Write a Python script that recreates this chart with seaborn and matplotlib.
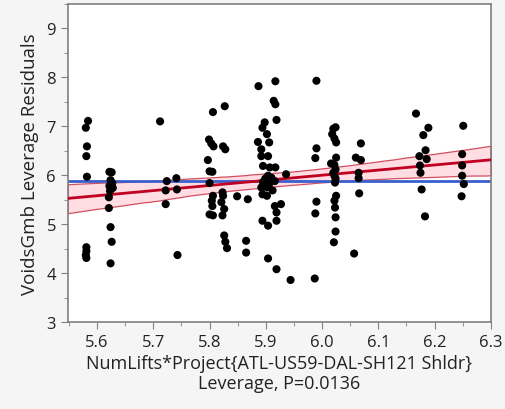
import numpy as np
import pandas as pd
import seaborn as sns
import matplotlib.pyplot as plt
from matplotlib.ticker import MultipleLocator

# leverage x values (grouped by column of points)
lev_x = [
    5.584, 5.580, 5.582, 5.581, 5.582, 5.581, 5.581, 5.580, 5.581,
    5.622, 5.626, 5.624, 5.627, 5.622, 5.628, 5.623, 5.621, 5.621, 5.624, 5.626, 5.624,
    5.712,
    5.724, 5.722, 5.722, 5.741, 5.742, 5.743,
    5.806, 5.799, 5.803, 5.807, 5.797, 5.800, 5.805, 5.800, 5.806, 5.804, 5.805, 5.800, 5.806,
    5.827, 5.824, 5.828, 5.823, 5.824, 5.821, 5.826, 5.823, 5.826, 5.828, 5.831,
    5.849, 5.868, 5.865, 5.865,
    5.887, 5.917, 5.914, 5.917, 5.898, 5.919, 5.894, 5.902, 5.886, 5.906, 5.892, 5.892,
    5.904, 5.895, 5.907, 5.917, 5.904, 5.895, 5.907, 5.916, 5.892, 5.902, 5.912, 5.894,
    5.902, 5.916, 5.927, 5.919, 5.894, 5.904, 5.919, 5.904, 5.919, 5.944, 5.936,
    5.899, 5.905, 5.910,
    5.990, 5.990, 5.988, 5.990, 5.988, 5.987,
    6.020, 6.024, 6.018, 6.022, 6.025, 6.025, 6.016, 6.022, 6.024, 6.022, 6.023, 6.025,
    6.022, 6.023, 6.024, 6.024, 6.021, 6.057, 6.020, 6.024,
    6.069, 6.060, 6.069, 6.065, 6.065, 6.066,
    6.167, 6.189, 6.180, 6.184, 6.173, 6.186, 6.174, 6.175, 6.177, 6.183,
    6.251, 6.249, 6.249, 6.249, 6.252, 6.248,
]

# leverage residuals
lev_y = [
    7.11, 6.97, 6.59, 6.39, 5.97, 4.53, 4.45, 4.37, 4.31,
    6.07, 6.06, 5.90, 5.84, 5.78, 5.74, 5.68, 5.55, 5.33, 4.94, 4.64, 4.20,
    7.10,
    5.88, 5.69, 5.41, 5.94, 5.71, 4.37,
    7.29, 6.73, 6.65, 6.59, 6.31, 6.08, 6.07, 5.84, 5.58, 5.48, 5.37, 5.20, 5.18,
    7.41, 6.59, 6.53, 5.65, 5.58, 5.45, 5.31, 5.18, 4.77, 4.64, 4.51,
    5.57, 5.51, 4.66, 4.42,
    7.82, 7.92, 7.52, 7.45, 7.08, 7.13, 6.97, 6.84, 6.68, 6.67, 6.53, 6.39,
    6.39, 6.19, 6.16, 6.16, 5.99, 5.86, 5.85, 5.88, 5.75, 5.75, 5.69, 5.61,
    5.58, 5.37, 5.41, 5.24, 5.07, 4.97, 5.07, 4.30, 4.08, 3.86, 6.02,
    5.93, 5.80, 5.95,
    7.93, 6.55, 6.35, 5.46, 5.22, 3.89,
    6.95, 6.98, 6.84, 6.75, 6.67, 6.36, 6.24, 6.21, 6.12, 5.99, 5.85, 5.58,
    5.48, 5.34, 5.14, 4.85, 4.63, 4.40, 6.05, 5.93,
    6.65, 6.36, 6.31, 6.05, 5.94, 5.63,
    7.26, 6.97, 6.82, 6.51, 6.39, 6.33, 6.20, 6.05, 5.71, 5.16,
    7.01, 6.43, 6.20, 5.99, 5.82, 5.57,
]

df = pd.DataFrame({"x": lev_x, "y": lev_y})

sns.set_style("white")
plt.rcParams['font.family'] = ['Open Sans', 'DejaVu Sans']

fig = plt.figure(figsize=(5.06, 4.10), dpi=100, facecolor="#f5f5f5")
ax = fig.add_axes([0.134, 0.212, 0.836, 0.776])
ax.set_facecolor("white")
ax.set_xlim(5.548, 6.3)
ax.set_ylim(3, 9.5)

# mean line
ax.axhline(np.mean(lev_y), color="#3a5fcd", lw=2, zorder=2)

# fit line + confidence band
sns.regplot(x="x", y="y", data=df, ax=ax, scatter=False, truncate=False,
            ci=95, seed=1, color="#c00020", line_kws={"lw": 2, "zorder": 3})
band = ax.collections[-1]
band.set_facecolor("#ffdde3")
band.set_alpha(1)
band.set_edgecolor("#d05060")
band.set_linewidth(0.9)
band.set_zorder(1)

sns.scatterplot(x="x", y="y", data=df, ax=ax, color="black", s=34,
                edgecolor="none", zorder=4)

ax.xaxis.set_major_locator(MultipleLocator(0.1))
ax.xaxis.set_minor_locator(MultipleLocator(0.05))
ax.yaxis.set_major_locator(MultipleLocator(1))
ax.yaxis.set_minor_locator(MultipleLocator(0.5))
ax.set_yticks(range(3, 10))
ax.tick_params(which="both", direction="out", color="#808080", bottom=True, left=True)
ax.tick_params(which="major", length=5, labelsize=12, colors="#808080", labelcolor="#222222")
ax.tick_params(which="minor", length=3, color="#808080")
ax.set_xticklabels([f"{v:.1f}" for v in ax.get_xticks()])

for s in ax.spines.values():
    s.set_color("#808080")
    s.set_linewidth(1.2)

ax.set_xlabel("NumLifts*Project{ATL-US59-DAL-SH121 Shldr}\nLeverage, P=0.0136",
              fontsize=13, color="#222222", labelpad=3, linespacing=1.15)
ax.set_ylabel("VoidsGmb Leverage Residuals", fontsize=13.5, color="#222222", labelpad=5)

fig.savefig("out.png", dpi=100, facecolor=fig.get_facecolor())
